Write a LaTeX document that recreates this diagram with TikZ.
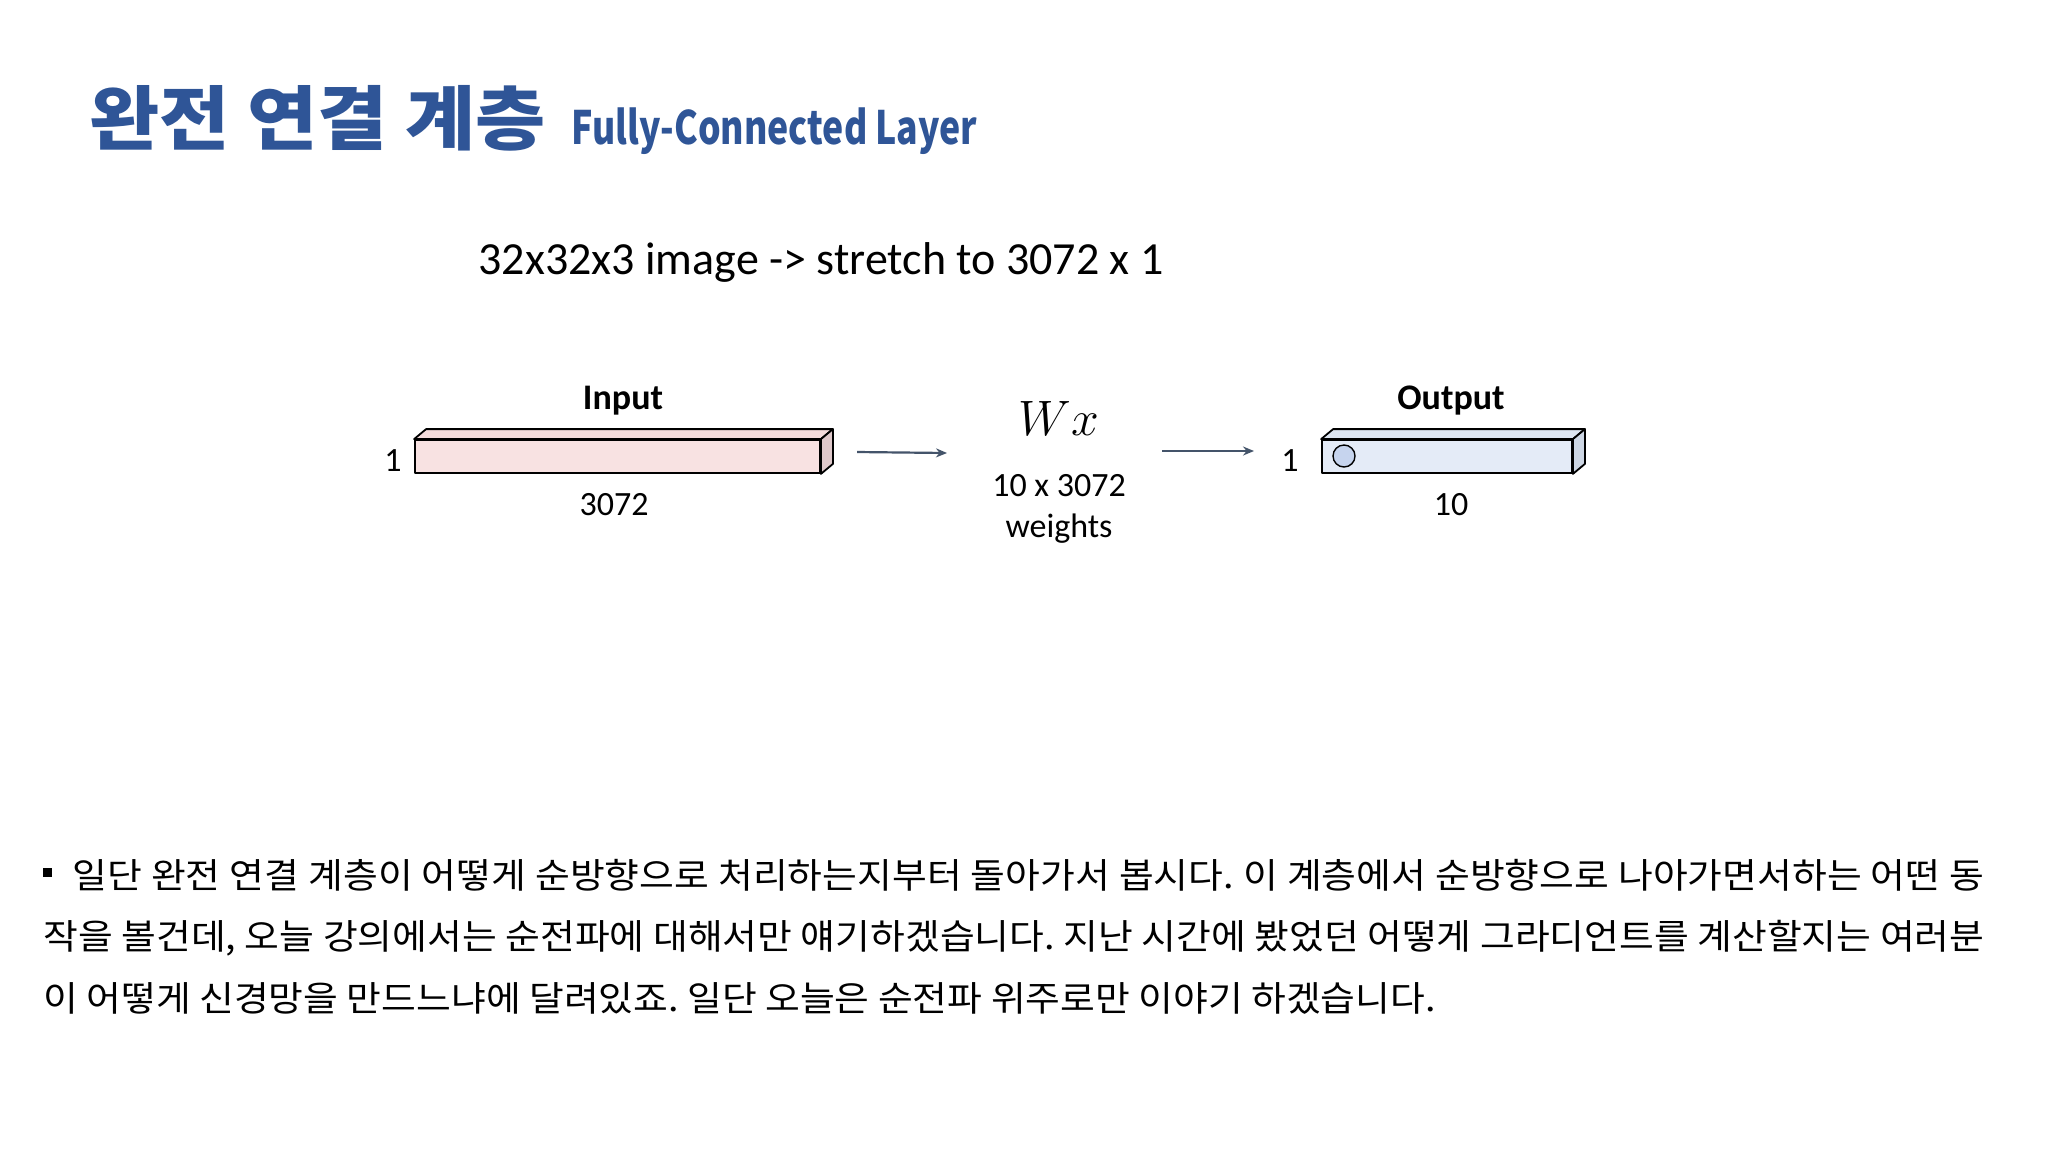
\documentclass[tikz,border=0pt]{standalone}
\usepackage{fontspec}
\usepackage{graphicx}
\setmainfont{Carlito}
\newfontfamily\kr{Noto Sans CJK KR}[FakeStretch=1.08]
\newfontfamily\krtitle{Noto Sans CJK KR}[FakeStretch=1.09]
\newfontfamily\krsub{Noto Sans CJK KR}
\usetikzlibrary{arrows.meta}
\definecolor{titleblue}{RGB}{47,85,151}
\definecolor{arrowgray}{RGB}{68,84,106}
\definecolor{inFront}{RGB}{248,226,226}
\definecolor{inTop}{RGB}{244,220,220}
\definecolor{inSide}{RGB}{222,200,202}
\definecolor{outFront}{RGB}{228,235,247}
\definecolor{outTop}{RGB}{222,230,242}
\definecolor{outSide}{RGB}{205,214,228}
\definecolor{dotBlue}{RGB}{198,212,238}
\frenchspacing
\begin{document}
\begin{tikzpicture}[x=0.5pt,y=-0.5pt,
  lbl/.style={inner sep=0pt, font=\fontsize{17}{20}\selectfont},
  boldlbl/.style={inner sep=0pt, font=\bfseries\fontsize{18}{21}\selectfont},
  face/.style={draw=black, line width=0.9pt, line join=round},
  arr/.style={draw=arrowgray, line width=1.1pt, -{Stealth[length=5.5pt,width=4.5pt]}},
  bodyline/.style={anchor=base west, inner sep=0pt, font=\kr\fontsize{17.5}{20}\selectfont}]
\useasboundingbox[fill=white] (0,0) rectangle (2048,1152);

% title
\node[anchor=base west, inner sep=0pt, text=titleblue, font=\krtitle\bfseries\fontsize{35}{40}\selectfont] (title) at (89,144) {완전 연결 계층};
\node[anchor=base west, inner sep=0pt, text=titleblue, font=\krsub\bfseries\fontsize{23}{27}\selectfont] (subtitle) at (571,144) {\scalebox{0.775}[1]{Fully-Connected Layer}};

% caption
\node[anchor=base, inner sep=0pt, font=\fontsize{23}{27}\selectfont] (caption) at (821,274) {32x32x3 image -> stretch to 3072 x 1};

% input box
\node[face, fill=inFront, minimum width=202.5pt, minimum height=16.5pt, inner sep=0pt] (inA) at (617.5,456.5) {};
\draw[face, fill=inTop] (inA.north west) -- ++(12,-10) -- ([xshift=6pt,yshift=5pt]inA.north east) -- (inA.north east) -- cycle;
\draw[face, fill=inSide] (inA.north east) -- ++(12,-10) -- ([xshift=6pt,yshift=5pt]inA.south east) -- (inA.south east) -- cycle;
\node[boldlbl, anchor=base] (inLbl) at (623,409) {Input};
\node[lbl, anchor=base] (inOne) at (393,471) {1};
\node[lbl, anchor=base] (inW) at (614,515) {3072};

% Wx
\node[inner sep=0pt, anchor=base, font=\fontsize{28.5}{32}\selectfont] (wx) at (1059,435) {$Wx$};
\node[lbl, anchor=base] (wdim) at (1059,496) {10 x 3072};
\node[lbl, anchor=base] (wtxt) at (1059,537) {weights};

% output box
\node[face, fill=outFront, minimum width=125pt, minimum height=16.5pt, inner sep=0pt] (outA) at (1447,456.5) {};
\draw[face, fill=outTop] (outA.north west) -- ++(12,-10) -- ([xshift=6pt,yshift=5pt]outA.north east) -- (outA.north east) -- cycle;
\draw[face, fill=outSide] (outA.north east) -- ++(12,-10) -- ([xshift=6pt,yshift=5pt]outA.south east) -- (outA.south east) -- cycle;
\node[circle, draw=black, line width=0.7pt, fill=dotBlue, minimum size=11pt, inner sep=0pt] (neuron) at (1344,456) {};
\node[boldlbl, anchor=base] (outLbl) at (1451,409) {Output};
\node[lbl, anchor=base] (outOne) at (1290,471) {1};
\node[lbl, anchor=base] (outW) at (1451,515) {10};

% arrows
\coordinate (a1s) at (857,452);
\coordinate (a1e) at (947,453);
\coordinate (a2s) at (1162,451);
\coordinate (a2e) at (1254,451);
\draw[arr] (a1s) -- (a1e);
\draw[arr] (a2s) -- (a2e);

% body text
\node[fill=black, minimum size=4.5pt, inner sep=0pt] (bullet) at (47.5,872.5) {};
\node[bodyline] (l1) at (72,888) {\makebox[956pt][s]{일단 완전 연결 계층이 어떻게 순방향으로 처리하는지부터 돌아가서 봅시다. 이 계층에서 순방향으로 나아가면서하는 어떤 동}};
\node[bodyline] (l2) at (43,949) {\makebox[970.5pt][s]{작을 볼건데, 오늘 강의에서는 순전파에 대해서만 얘기하겠습니다. 지난 시간에 봤었던 어떻게 그라디언트를 계산할지는 여러분}};
\node[bodyline] (l3) at (43,1011) {이 어떻게 신경망을 만드느냐에 달려있죠. 일단 오늘은 순전파 위주로만 이야기 하겠습니다.};
\end{tikzpicture}
\end{document}
